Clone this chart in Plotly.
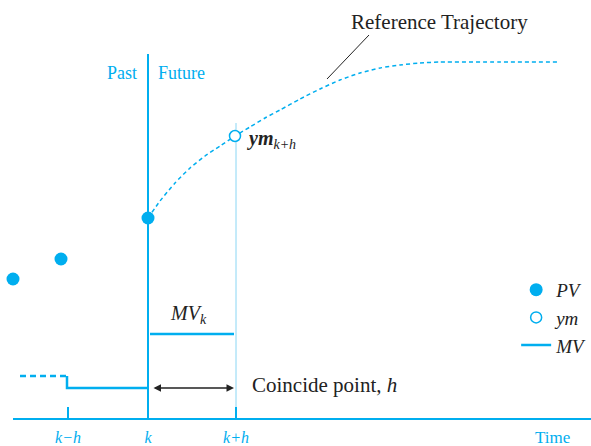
import plotly.graph_objects as go

CYAN = "#00AEEF"
LIGHT = "#8AD6F4"
FONT = "Liberation Serif, Times New Roman, serif"

# Time positions (horizontal units) and signal levels (height above time axis)
tick_pos = [68, 148, 236]
tick_text = ["<i>k\u2212h</i>", "<i>k</i>", "<i>k+h</i>"]

pv_time = [13, 61, 148]
pv_value = [139, 159, 200]

ym_time = [235]
ym_value = [282]

ref_time = [148, 160, 175, 190, 205, 220, 235, 250, 265, 280, 300, 320, 340, 360, 380, 400, 420, 440, 500, 558]
ref_value = [200, 217, 235, 250, 262, 272, 282, 291, 300, 308, 319, 329, 338, 345, 350, 353, 355, 356, 356, 356]

mv_past_time = [20, 67]
mv_past_value = [42, 42]
mv_time = [67, 67, 148, None, 150, 234]
mv_value = [42, 30, 30, None, 84, 84]

k_time = 148
k_line_top = 364
kh_time = 236
kh_line_top = 295

fig = go.Figure()

# vertical lines
fig.add_trace(go.Scatter(x=[k_time, k_time], y=[0, k_line_top], mode="lines",
                         line=dict(color=CYAN, width=2), showlegend=False, hoverinfo="skip"))
fig.add_trace(go.Scatter(x=[kh_time, kh_time], y=[0, kh_line_top], mode="lines",
                         line=dict(color=LIGHT, width=1), showlegend=False, hoverinfo="skip"))

# reference trajectory
fig.add_trace(go.Scatter(x=ref_time, y=ref_value, mode="lines",
                         line=dict(color=CYAN, width=1.5, dash="4px,3px", shape="spline", smoothing=0.6),
                         showlegend=False, hoverinfo="skip"))

# past MV dashed
fig.add_trace(go.Scatter(x=mv_past_time, y=mv_past_value, mode="lines",
                         line=dict(color=CYAN, width=2.5, dash="6px,4px"),
                         showlegend=False, hoverinfo="skip"))

fig.add_trace(go.Scatter(x=pv_time, y=pv_value, mode="markers", name="<i>PV</i>",
                         marker=dict(color=CYAN, size=13), cliponaxis=False))
fig.add_trace(go.Scatter(x=ym_time, y=ym_value, mode="markers", name="<i>ym</i>",
                         marker=dict(color="white", size=11, line=dict(color=CYAN, width=1.5)),
                         cliponaxis=False))
fig.add_trace(go.Scatter(x=mv_time, y=mv_value, mode="lines", name="<i>MV</i>",
                         line=dict(color=CYAN, width=2.5)))

# leader line for reference trajectory
fig.add_trace(go.Scatter(x=[369, 327], y=[383, 339], mode="lines",
                         line=dict(color="#222222", width=1), showlegend=False, hoverinfo="skip"))

annotations = [
    dict(x=439, y=396, text="Reference Trajectory", showarrow=False,
         font=dict(family=FONT, size=21, color="#222222"), xanchor="center", yanchor="middle"),
    dict(x=139, y=345, text="Past", showarrow=False,
         font=dict(family=FONT, size=18, color=CYAN), xanchor="right", yanchor="middle"),
    dict(x=156, y=345, text="Future", showarrow=False,
         font=dict(family=FONT, size=18, color=CYAN), xanchor="left", yanchor="middle"),
    dict(x=245, y=279, text="<b><i>ym</i></b><sub><i>k+h</i></sub>", showarrow=False,
         font=dict(family=FONT, size=20, color="#222222"), xanchor="left", yanchor="middle"),
    dict(x=168, y=104, text="<i>MV</i><sub><i>k</i></sub>", showarrow=False,
         font=dict(family=FONT, size=20, color="#222222"), xanchor="left", yanchor="middle"),
    dict(x=250, y=33, text="Coincide point, <i>h</i>", showarrow=False,
         font=dict(family=FONT, size=21, color="#222222"), xanchor="left", yanchor="middle"),
    dict(x=234, y=30, ax=152, ay=30, axref="x", ayref="y", xref="x", yref="y", text="",
         showarrow=True, arrowhead=2, arrowside="end+start", arrowwidth=1.5, arrowsize=1,
         arrowcolor="#222222"),
    dict(x=552, y=-19 / 418, xref="x", yref="paper", text="Time", showarrow=False,
         font=dict(family=FONT, size=17, color=CYAN), xanchor="center", yanchor="middle"),
]

fig.update_layout(
    width=591, height=446,
    margin=dict(l=13, r=0, t=0, b=28, autoexpand=False),
    paper_bgcolor="white", plot_bgcolor="white",
    annotations=annotations,
    showlegend=True,
    legend=dict(x=0.8705, y=0.352, xanchor="left", yanchor="top",
                font=dict(family=FONT, size=19, color="#222222"),
                bgcolor="rgba(0,0,0,0)", tracegroupgap=0, itemwidth=30),
    xaxis=dict(range=[13, 591], showgrid=False, zeroline=False, showline=True,
               linecolor=CYAN, linewidth=1.5, tickmode="array", tickvals=tick_pos,
               ticktext=tick_text, ticks="inside", ticklen=11, tickcolor=CYAN, tickwidth=1.5,
               tickfont=dict(family=FONT, size=16, color=CYAN), ticklabelstandoff=4,
               automargin=False, fixedrange=True),
    yaxis=dict(range=[0, 418], visible=False, fixedrange=True, automargin=False),
)

fig.write_html("out.html", post_script="document.body.style.margin='0';",
               config={"displayModeBar": False})
